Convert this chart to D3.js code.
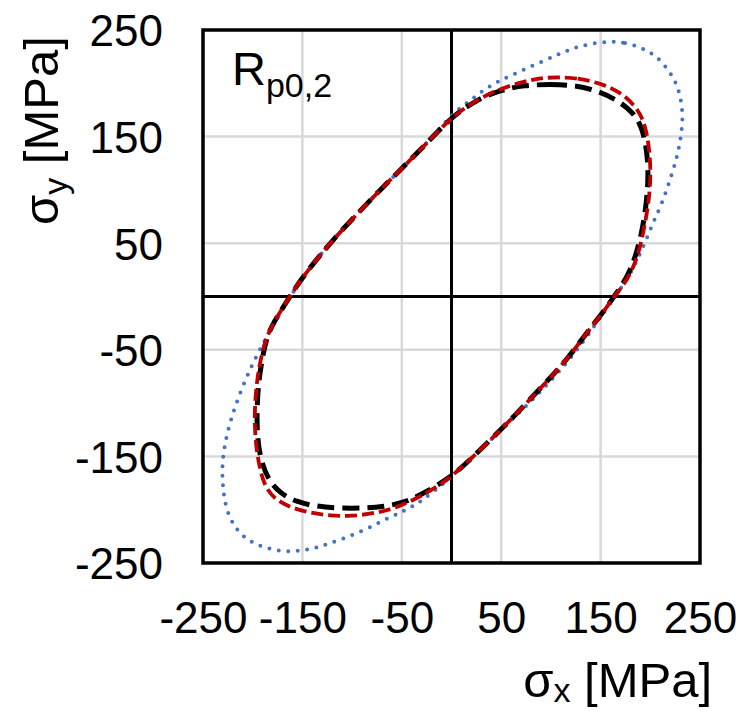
<!DOCTYPE html>
<html>
<head>
<meta charset="utf-8">
<script src="https://cdn.jsdelivr.net/npm/d3@7"></script>
<style>
  body { margin: 0; background: #fff; }
  svg { display: block; font-family: "Liberation Sans", Arial, sans-serif; }
</style>
</head>
<body>
<div id="chart"></div>
<script>
// yield loci, sigma_x / sigma_y in MPa
const blueX = [161.8, 173.5, 192.0, 207.1, 220.5, 228.9, 233.2, 231.2, 227.2, 220.5, 212.1, 202.0, 193.6, 183.6, 173.5, 163.4, 143.3, 116.5, 82.9, 52.7, 22.5, -4.4, -31.2, -48.0, -68.1, -88.3, -111.8, -131.9, -152.0, -172.2, -192.3, -209.1, -220.8, -227.5, -229.9, -230.9, -229.2, -222.5, -212.4, -200.7, -190.6, -178.9, -162.1, -145.3, -121.8, -95.0, -68.1, -44.6, -21.1, -1.0, 15.8, 29.2, 46.0, 66.1, 86.2, 106.4, 123.2, 143.3];
const blueY = [239.4, 238.4, 233.4, 225.1, 210.0, 195.0, 171.5, 151.5, 131.4, 111.4, 87.9, 67.9, 47.8, 27.8, 11.0, 0, -29.1, -62.5, -96.0, -122.7, -149.5, -172.9, -192.9, -201.3, -209.7, -219.7, -228.1, -234.7, -239.1, -239.1, -234.7, -226.4, -213.0, -196.3, -179.6, -162.9, -142.8, -116.0, -89.3, -64.2, -45.8, -25.7, 0, 24.0, 50.5, 77.5, 103.5, 125.0, 147.5, 169.9, 181.6, 191.6, 201.6, 210.0, 218.4, 226.7, 233.4, 237.8];

const blackX = [72.8, 99.7, 123.2, 146.7, 166.8, 181.9, 190.3, 195.3, 197.7, 197.7, 195.3, 191.0, 185.2, 176.9, 163.4, 153.4, 139.9, 116.5, 89.6, 56.0, 22.5, 0, -27.9, -48.0, -68.1, -88.3, -111.8, -135.2, -155.4, -172.2, -183.9, -192.3, -195.7, -195.7, -194.0, -190.6, -185.6, -175.5, -162.1, -145.3, -121.8, -95.0, -68.1, -44.6, -21.1, 0, 25.8, 49.3];
const blackY = [198.3, 199.0, 198.3, 193.3, 184.3, 173.2, 161.5, 144.8, 124.7, 104.7, 81.3, 57.9, 37.8, 17.7, 0, -14.0, -29.1, -59.2, -85.9, -119.4, -149.5, -169.5, -184.6, -193.6, -197.0, -198.6, -198.6, -197.0, -193.0, -184.6, -172.9, -152.8, -129.4, -102.7, -79.3, -59.2, -35.8, -19.1, 1.0, 24.0, 50.5, 77.5, 103.5, 125.0, 147.5, 168.2, 184.9, 193.5];

const redX = [106.4, 126.5, 150.0, 170.1, 183.6, 192.0, 197.0, 199.7, 200.4, 198.7, 195.3, 190.3, 183.6, 173.5, 163.4, 153.4, 139.9, 116.5, 89.6, 56.0, 22.5, 0, -27.9, -54.7, -74.8, -101.7, -121.8, -142.0, -162.1, -178.9, -188.9, -194.0, -197.3, -198.3, -196.3, -192.3, -185.6, -175.5, -162.1, -145.3, -121.8, -95.0, -68.1, -44.6, -21.1, 0, 25.8, 49.3, 72.8, 89.6];
const redY = [205.7, 205.0, 200.0, 191.6, 179.9, 168.2, 151.5, 131.4, 111.4, 91.3, 71.2, 47.8, 27.8, 11.0, 0, -14.0, -29.1, -59.2, -85.9, -119.4, -149.5, -169.5, -186.3, -198.0, -203.0, -206.3, -205.7, -203.0, -198.0, -189.6, -176.2, -156.2, -136.1, -109.3, -82.6, -59.2, -35.8, -19.1, 1.0, 24.0, 50.5, 77.5, 103.5, 125.0, 147.5, 168.2, 184.9, 195.0, 201.6, 205.0];

const tickValues = [-250, -150, -50, 50, 150, 250];
const gridValues = [-150, -50, 50, 150];

const W = 740, H = 711;
const margin = { top: 30, right: 40, bottom: 148, left: 203 };
const width = W - margin.left - margin.right;
const height = H - margin.top - margin.bottom;

const svg = d3.select("#chart").append("svg")
    .attr("width", W)
    .attr("height", H);

const g = svg.append("g")
    .attr("transform", `translate(${margin.left},${margin.top})`);

const x = d3.scaleLinear().domain([-250, 250]).range([0, width]);
const y = d3.scaleLinear().domain([-250, 250]).range([height, 0]);

// light grid
g.append("g").selectAll("line")
    .data(gridValues)
    .enter().append("line")
    .attr("x1", d => x(d)).attr("x2", d => x(d))
    .attr("y1", 0).attr("y2", height)
    .attr("stroke", "#d9d9d9").attr("stroke-width", 2.5);

g.append("g").selectAll("line")
    .data(gridValues)
    .enter().append("line")
    .attr("y1", d => y(d)).attr("y2", d => y(d))
    .attr("x1", 0).attr("x2", width)
    .attr("stroke", "#d9d9d9").attr("stroke-width", 2.5);

// zero axes
g.append("line")
    .attr("x1", x(0)).attr("x2", x(0)).attr("y1", 0).attr("y2", height)
    .attr("stroke", "#000").attr("stroke-width", 3);
g.append("line")
    .attr("y1", y(0)).attr("y2", y(0)).attr("x1", 0).attr("x2", width)
    .attr("stroke", "#000").attr("stroke-width", 3);

// tick labels (plain hyphen minus like the original)
const fmt = d => String(d);

const xAxis = g.append("g")
    .attr("transform", `translate(0,${height})`)
    .call(d3.axisBottom(x).tickValues(tickValues).tickFormat(fmt).tickSize(0));
xAxis.select(".domain").remove();
xAxis.selectAll("text")
    .attr("y", 70)
    .attr("dy", 0)
    .style("font-size", "44px")
    .style("font-family", "'Liberation Sans', Arial, sans-serif")
    .attr("fill", "#000");

const yAxis = g.append("g")
    .call(d3.axisLeft(y).tickValues(tickValues).tickFormat(fmt).tickSize(0).tickPadding(40));
yAxis.select(".domain").remove();
yAxis.selectAll("text")
    .attr("dy", "0.36em")
    .style("font-size", "44px")
    .style("font-family", "'Liberation Sans', Arial, sans-serif")
    .attr("fill", "#000");

// curves
const line = d3.line()
    .x(d => x(d[0]))
    .y(d => y(d[1]))
    .curve(d3.curveBasisClosed);

const zip = (a, b) => a.map((v, i) => [v, b[i]]);

g.append("path")
    .datum(zip(blueX, blueY))
    .attr("d", line)
    .attr("fill", "none")
    .attr("stroke", "#4472c4")
    .attr("stroke-width", 4)
    .attr("stroke-linecap", "round")
    .attr("stroke-dasharray", "0 9.5");

g.append("path")
    .datum(zip(blackX, blackY))
    .attr("d", line)
    .attr("fill", "none")
    .attr("stroke", "#000")
    .attr("stroke-width", 5)
    .attr("stroke-dasharray", "17 8");

g.append("path")
    .datum(zip(redX, redY))
    .attr("d", line)
    .attr("fill", "none")
    .attr("stroke", "#c00000")
    .attr("stroke-width", 3.8)
    .attr("stroke-dasharray", "12 5");

// frame
g.append("rect")
    .attr("x", 0).attr("y", 0)
    .attr("width", width).attr("height", height)
    .attr("fill", "none")
    .attr("stroke", "#000")
    .attr("stroke-width", 3.5);

// Rp0,2 label
const rp = g.append("text")
    .attr("x", 29).attr("y", 55)
    .style("font-size", "47px");
rp.append("tspan").text("R");
rp.append("tspan").attr("dy", 12).style("font-size", "34px").text("p0,2");

// axis titles
const xt = svg.append("text")
    .attr("x", 712).attr("y", 697)
    .attr("text-anchor", "end")
    .style("font-size", "49px");
xt.append("tspan").text("σ");
xt.append("tspan").attr("dy", 5).style("font-size", "34px").text("x");
xt.append("tspan").attr("dy", -5).text(" [MPa]");

const yt = svg.append("text")
    .attr("transform", "translate(58,225) rotate(-90)")
    .attr("text-anchor", "start")
    .style("font-size", "49px");
yt.append("tspan").text("σ");
yt.append("tspan").attr("dy", 9).style("font-size", "34px").text("y");
yt.append("tspan").attr("dy", -9).text(" [MPa]");
</script>
</body>
</html>
